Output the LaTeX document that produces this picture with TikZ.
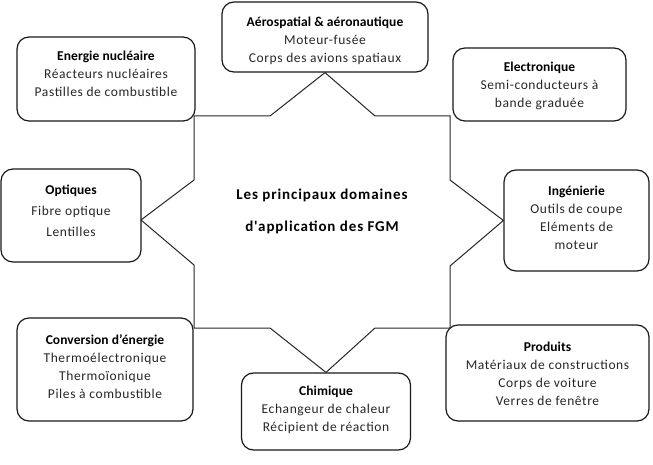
\documentclass[tikz,border=0pt]{standalone}
\usepackage{fontspec}
\setmainfont{Carlito}[LetterSpace=4.5, BoldFeatures={LetterSpace=0.5}]
\newfontfamily\centerfont{Carlito}[LetterSpace=6]
\begin{document}
\begin{tikzpicture}[x=1pt,y=-1pt,
  box/.style={draw=black!90, line width=1.2pt, rounded corners=12pt, inner sep=0pt},
  txt/.style={align=center, inner sep=0pt, text=black!85, font=\fontsize{13.5}{18}\selectfont},
  star/.style={draw=black!85, line width=1pt, line join=miter}]
\useasboundingbox (0,0) rectangle (653,465);

% boxes
\node[box, minimum width=206pt, minimum height=70pt] (aero) at (325,37) {};
\node[box, minimum width=178pt, minimum height=84pt] (nuc) at (106,79) {};
\node[box, minimum width=173pt, minimum height=73pt] (elec) at (539.5,84.5) {};
\node[box, minimum width=140pt, minimum height=93pt] (opt) at (71,215.5) {};
\node[box, minimum width=145pt, minimum height=101pt] (ing) at (576.5,220.5) {};
\node[box, minimum width=176pt, minimum height=103pt] (conv) at (105,369.5) {};
\node[box, minimum width=169pt, minimum height=77pt] (chim) at (326,411.5) {};
\node[box, minimum width=203pt, minimum height=96pt] (prod) at (547.5,373) {};

% texts
\node[txt] (aerot) at (325,41) {\textbf{\color{black}Aérospatial \& aéronautique}\\Moteur-fusée\\Corps des avions spatiaux};
\node[txt] (nuct) at (106,73.5) {\textbf{\color{black}Energie nucléaire}\\Réacteurs nucléaires\\Pastilles de combustible};
\node[txt] (elect) at (539.5,85.5) {\textbf{\color{black}Electronique}\\Semi-conducteurs à\\bande graduée};
\node[txt, font=\fontsize{13.5}{21}\selectfont] (optt) at (71,211) {\textbf{\color{black}Optiques}\\Fibre optique\\Lentilles};
\node[txt] (ingt) at (576.5,217.5) {\textbf{\color{black}Ingénierie}\\Outils de coupe\\Eléments de\\moteur};
\node[txt] (convt) at (105,367) {\textbf{\color{black}Conversion d’énergie}\\Thermoélectronique\\Thermoïonique\\Piles à combustible};
\node[txt] (chimt) at (326,410) {\textbf{\color{black}Chimique}\\Echangeur de chaleur\\Récipient de réaction};
\node[txt] (prodt) at (547.5,374) {\textbf{\color{black}Produits}\\Matériaux de constructions\\Corps de voiture\\Verres de fenêtre};

% centre
\node[align=center, inner sep=0pt, font=\centerfont\bfseries\fontsize{15}{32}\selectfont] (centre) at (322,211)
  {Les principaux domaines\\d'application des FGM};

% star
\coordinate (v2) at (375,116);
\coordinate (v3) at (450,116);
\coordinate (v4) at (450,180);
\coordinate (v6) at (450,266);
\coordinate (v7) at (450,328);
\coordinate (v8) at (375,328);
\coordinate (v10) at (270,328);
\coordinate (v11) at (194,328);
\coordinate (v12) at (194,265);
\coordinate (v13) at (141,220);
\coordinate (v14) at (194,180);
\coordinate (v15) at (194,116);
\coordinate (v16) at (270,116);
\draw[star] (aero.south) -- (v2) -- (v3) -- (v4) -- (ing.west) -- (v6) -- (v7) -- (v8)
  -- (chim.north) -- (v10) -- (v11) -- (v12) -- (v13) -- (v14) -- (v15) -- (v16) -- cycle;
\end{tikzpicture}
\end{document}
